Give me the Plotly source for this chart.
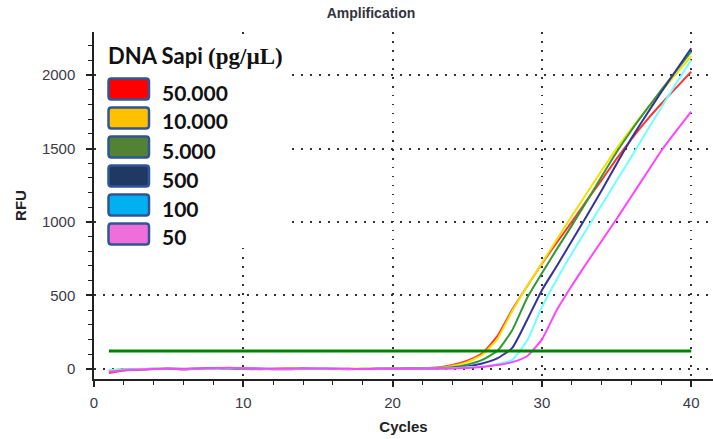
import plotly.graph_objects as go

# ---------------- data ----------------
cycles = list(range(1, 41))

series_names = ["50.000", "10.000", "5.000", "500", "100", "50"]

rfu_50000 = [-30, -12, -5, -2, 0, -3, 1, 4, 2, -1, -3, 0, 2, 1, -2, -1, 0, -2, -1, 0,
             2, 4, 8, 25, 55, 105, 220, 400, 560, 715, 860, 1000, 1145, 1285, 1430, 1565, 1690, 1805, 1915, 2023]
rfu_10000 = [-8, -5, -3, 0, 1, -2, 2, 3, 1, 0, -2, -1, 1, 2, 0, -2, -1, -1, 0, 1,
             2, 3, 5, 18, 45, 95, 200, 390, 560, 720, 880, 1040, 1195, 1350, 1500, 1635, 1765, 1890, 2010, 2130]
rfu_5000 = [-12, -6, -3, -1, 0, -2, 1, 2, 3, 1, -1, -2, 0, 1, 0, -1, -2, -1, 0, 0,
            1, 2, 3, 10, 28, 60, 120, 260, 480, 650, 815, 975, 1140, 1310, 1475, 1625, 1765, 1900, 2030, 2160]
rfu_500 = [-15, -8, -4, -2, -1, -3, 0, 2, 1, 3, 0, -3, -4, -1, 0, -2, -3, -2, -1, 0,
           0, 1, 2, 5, 15, 35, 70, 140, 330, 535, 700, 870, 1040, 1215, 1395, 1570, 1730, 1885, 2035, 2183]
rfu_100 = [-10, -6, -2, 0, 2, 0, 1, -1, 2, 3, 1, -1, -2, 0, 1, -1, -2, -2, -1, 0,
           0, 1, 2, 4, 10, 15, 30, 60, 190, 420, 610, 785, 950, 1115, 1280, 1445, 1615, 1780, 1945, 2103]
rfu_50 = [-20, -10, -5, -2, 1, -1, 2, 3, 6, 4, 2, 0, -1, 1, 2, 0, -1, -2, -1, 0,
          0, 1, 1, 2, 5, 12, 25, 45, 85, 200, 400, 565, 720, 870, 1020, 1175, 1330, 1485, 1620, 1751]

series_values = [rfu_50000, rfu_10000, rfu_5000, rfu_500, rfu_100, rfu_50]

threshold_x = [1, 40]
threshold_rfu = 120

x_tickvals = [0, 10, 20, 30, 40]
y_tickvals = [0, 500, 1000, 1500, 2000]

legend_title = "DNA Sapi"
legend_unit = "(pg/µL)"

# ---------------- styles ----------------
line_colors = ["#FF3333", "#F2E200", "#339933", "#333399", "#70FFFF", "#FF44FF"]
swatch_colors = ["#FF0000", "#FFC000", "#548235", "#203864", "#00B0F0", "#F06EDC"]

W, H = 713, 439
L, R, T, B = 94, 0, 32, 60
PW, PH = W - L - R, H - T - B


def pxx(p):
    return (p - L) / PW


def pxy(p):
    return (H - B - p) / PH


fig = go.Figure()
for name, vals, col in zip(series_names, series_values, line_colors):
    fig.add_trace(go.Scatter(x=cycles, y=vals, mode="lines", name=name,
                             line=dict(color=col, width=2, shape="spline", smoothing=0.5),
                             showlegend=False))
fig.add_trace(go.Scatter(x=threshold_x, y=[threshold_rfu] * len(threshold_x), mode="lines",
                         line=dict(color="#008000", width=3), showlegend=False, name="Threshold"))

xr = [0, PW / 14.93]
yr = [-70, 2294]
tick_font = dict(family="Liberation Sans, Arial", size=15, color="#3a3a48")
grid = dict(showgrid=True, gridcolor="#333333", gridwidth=1.5, griddash="1.5px,7.5px")

fig.update_layout(
    width=W, height=H,
    margin=dict(l=L, r=R, t=T, b=B, autoexpand=False),
    paper_bgcolor="white", plot_bgcolor="white",
    title=dict(text="<b>Amplification</b>", x=371 / W, xref="container", xanchor="center",
               y=1 - 13 / H, yref="container", yanchor="middle",
               font=dict(family="Liberation Sans, Arial", size=14, color="#333340")),
    xaxis=dict(range=xr, tickvals=x_tickvals, ticks="outside", ticklen=6, tickwidth=1.5,
               tickcolor="#222", showline=True, linecolor="#222", linewidth=1.5,
               minor=dict(ticks="outside", dtick=2, tick0=0, ticklen=4, tickwidth=1.2, tickcolor="#222", showgrid=False),
               tickfont=tick_font, zeroline=False, ticklabelstandoff=3,
               title=dict(text="<b>Cycles</b>", standoff=12,
                          font=dict(family="Liberation Sans, Arial", size=15, color="#222")),
               **grid),
    yaxis=dict(range=yr, tickvals=y_tickvals, ticks="outside", ticklen=6, tickwidth=1.5,
               tickcolor="#222", showline=True, linecolor="#222", linewidth=1.5,
               minor=dict(ticks="outside", dtick=100, tick0=0, ticklen=4, tickwidth=1.2, tickcolor="#222", showgrid=False),
               tickfont=tick_font, zeroline=False, ticklabelstandoff=8,
               title=dict(text="<b>RFU</b>", standoff=12,
                          font=dict(family="Liberation Sans, Arial", size=15, color="#222")),
               **grid),
    xaxis2=dict(range=xr, overlaying="x", anchor="y", side="bottom", tickvals=x_tickvals,
                ticks="inside", ticklen=5, tickwidth=1.5, tickcolor="#222",
                minor=dict(ticks="inside", dtick=2, tick0=0, ticklen=3, tickwidth=1.2, tickcolor="#222"),
                showticklabels=False, showgrid=False, zeroline=False, showline=False),
    xaxis3=dict(range=xr, overlaying="x", anchor="y", side="top", tickvals=x_tickvals,
                ticks="inside", ticklen=6, tickwidth=1.5, tickcolor="#222",
                minor=dict(ticks="inside", dtick=2, tick0=0, ticklen=4, tickwidth=1.2, tickcolor="#222"),
                showticklabels=False, showgrid=False, zeroline=False, showline=True,
                linecolor="#222", linewidth=1.5),
    yaxis2=dict(range=yr, overlaying="y", anchor="x", side="left", tickvals=y_tickvals,
                ticks="inside", ticklen=5, tickwidth=1.5, tickcolor="#222",
                minor=dict(ticks="inside", dtick=100, tick0=0, ticklen=3, tickwidth=1.2, tickcolor="#222"),
                showticklabels=False, showgrid=False, zeroline=False, showline=False),
)

# ---- custom legend (white panel, swatches, labels) ----
fig.add_shape(type="rect", xref="paper", yref="paper",
              x0=pxx(100), x1=pxx(287), y0=pxy(248), y1=pxy(39),
              fillcolor="white", line=dict(width=0), layer="above")

fig.add_annotation(xref="paper", yref="paper", x=pxx(106), y=pxy(55), xanchor="left", yanchor="middle",
                   showarrow=False,
                   text=f"<b>{legend_title} </b><span style='font-family:Liberation Serif;font-size:23px'><b>{legend_unit}</b></span>",
                   font=dict(family="Lato", size=22, color="#111"))

rx, ry = 3 / PW, 3 / PH
for i, (name, col) in enumerate(zip(series_names, swatch_colors)):
    cy = 89 + 29 * i
    x0, x1 = pxx(108.5), pxx(149)
    y0, y1 = pxy(cy + 10.5), pxy(cy - 10.5)
    path = (f"M {x0+rx},{y0} L {x1-rx},{y0} Q {x1},{y0} {x1},{y0+ry} L {x1},{y1-ry} "
            f"Q {x1},{y1} {x1-rx},{y1} L {x0+rx},{y1} Q {x0},{y1} {x0},{y1-ry} "
            f"L {x0},{y0+ry} Q {x0},{y0} {x0+rx},{y0} Z")
    fig.add_shape(type="path", xref="paper", yref="paper", path=path,
                  fillcolor=col, line=dict(color="#2F5597", width=2.5), layer="above")
    fig.add_annotation(xref="paper", yref="paper", x=pxx(160), y=pxy(cy + 3), xanchor="left",
                       yanchor="middle", showarrow=False, text=f"<b>{name}</b>",
                       font=dict(family="Lato", size=21, color="#111"))

fig.write_html("out.html")
